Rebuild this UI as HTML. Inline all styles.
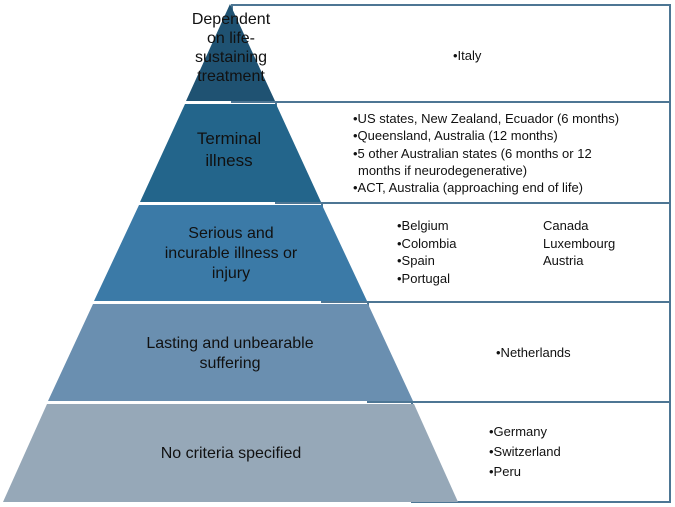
<!DOCTYPE html>
<html><head><meta charset="utf-8"><style>
html,body{margin:0;padding:0;background:#fff;}
svg{display:block;}
text{font-family:"Liberation Sans",sans-serif;}
</style></head><body>
<svg width="675" height="507" viewBox="0 0 675 507" xmlns="http://www.w3.org/2000/svg">
<g fill="none" stroke="#4d7694" stroke-width="2">
<rect x="232" y="5" width="438" height="97"/>
<rect x="276" y="102" width="394" height="101"/>
<rect x="322" y="203" width="348" height="99"/>
<rect x="368" y="302" width="302" height="100"/>
<rect x="412" y="402" width="258" height="100"/>
</g>
<!-- pyramid layers -->
<polygon points="230,4 275,101 186,101" fill="#1f5272"/>
<polygon points="185,104 276,104 321,202 140,202" fill="#23658b"/>
<polygon points="139,205 322,205 367,301 94,301" fill="#3b7aa7"/>
<polygon points="93,304 368,304 413,401 48,401" fill="#6a8fb0"/>
<polygon points="47,404 414,404 458,502 3,502" fill="#96a8b8"/>
<g font-size="16" fill="#111" text-anchor="middle">
<text x="231" y="24">Dependent</text>
<text x="231" y="43">on life-</text>
<text x="231" y="62">sustaining</text>
<text x="231" y="81">treatment</text>
<text x="229" y="144" font-size="17">Terminal</text>
<text x="229" y="166" font-size="17">illness</text>
<text x="231" y="238">Serious and</text>
<text x="231" y="258">incurable illness or</text>
<text x="231" y="278">injury</text>
<text x="230" y="348">Lasting and unbearable</text>
<text x="230" y="368">suffering</text>
<text x="231" y="458">No criteria specified</text>
</g>
<g font-size="13" fill="#111">
<text x="453" y="60">•Italy</text>
<text x="353" y="123">•US states, New Zealand, Ecuador (6 months)</text>
<text x="353" y="140">•Queensland, Australia (12 months)</text>
<text x="353" y="158">•5 other Australian states (6 months or  12</text>
<text x="358" y="175">months if neurodegenerative)</text>
<text x="353" y="192">•ACT, Australia (approaching end of life)</text>
<text x="397" y="230">•Belgium</text>
<text x="397" y="248">•Colombia</text>
<text x="397" y="265">•Spain</text>
<text x="397" y="283">•Portugal</text>
<text x="543" y="230">Canada</text>
<text x="543" y="248">Luxembourg</text>
<text x="543" y="265">Austria</text>
<text x="496" y="357">•Netherlands</text>
<text x="489" y="436">•Germany</text>
<text x="489" y="456">•Switzerland</text>
<text x="489" y="476">•Peru</text>
</g>
</svg>
</body></html>
